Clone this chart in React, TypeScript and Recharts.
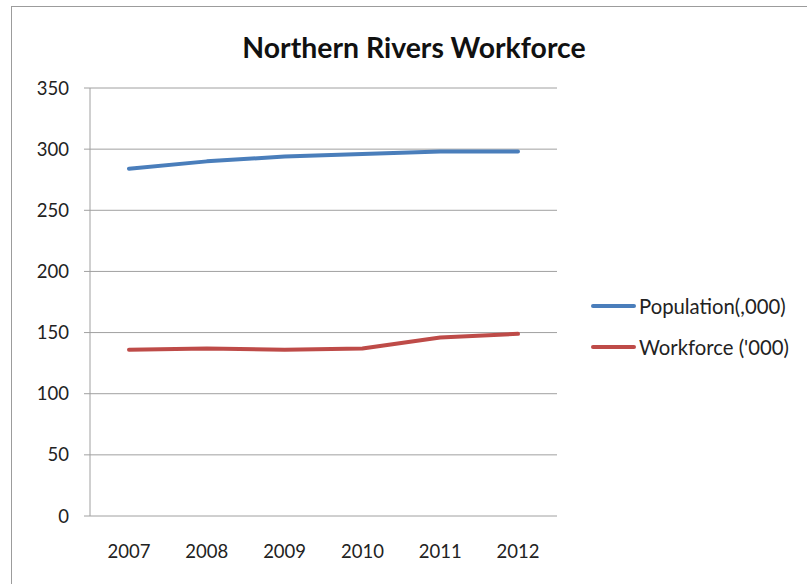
import React from "react";
import {
  LineChart,
  Line,
  XAxis,
  YAxis,
  CartesianGrid,
} from "recharts";

const years = ["2007", "2008", "2009", "2010", "2011", "2012"];
const population = [284, 290, 294, 296, 298, 298];
const workforce = [136, 137, 136, 137, 146, 149];
const yTicks = [0, 50, 100, 150, 200, 250, 300, 350];
const edgeTicks = [0, 1, 2, 3, 4, 5, 6];

const seriesInfo = [
  { key: "population", name: "Population(,000)", color: "#4a7ebb" },
  { key: "workforce", name: "Workforce ('000)", color: "#be4b48" },
];

const data = years.map((year, i) => ({
  year,
  population: population[i],
  workforce: workforce[i],
}));

const FONT = "Lato, 'Open Sans', sans-serif";
const GRID = "#a0a0a0";

export default function App() {
  return (
    <div
      style={{
        position: "absolute",
        left: 0,
        top: 0,
        width: 807,
        height: 584,
        overflow: "hidden",
        background: "#fff",
        fontFamily: FONT,
      }}
    >
      <div
        style={{
          position: "absolute",
          left: 11,
          top: 6,
          width: 900,
          height: 700,
          borderTop: "1px solid #9c9c9c",
          borderLeft: "1px solid #9c9c9c",
        }}
      />
      <div
        style={{
          position: "absolute",
          left: 0,
          width: 828,
          top: 30,
          textAlign: "center",
          fontWeight: 700,
          fontSize: 28.4,
          lineHeight: 1.2,
          color: "#111",
        }}
      >
        Northern Rivers Workforce
      </div>
      <div style={{ position: "absolute", left: 0, top: 0 }}>
        <LineChart
          width={807}
          height={584}
          data={data}
          margin={{ top: 88, right: 250, bottom: 18, left: 30 }}
        >
          <CartesianGrid horizontal vertical={false} stroke={GRID} strokeWidth={1} />
          <XAxis
            xAxisId="edges"
            type="number"
            domain={[0, 6]}
            ticks={edgeTicks}
            tick={false}
            tickSize={6}
            height={0}
            stroke={GRID}
            allowDataOverflow
          />
          <XAxis
            xAxisId="cat"
            dataKey="year"
            padding={{ left: 39, right: 39 }}
            tickLine={false}
            axisLine={false}
            height={50}
            tickMargin={23}
            tick={{ fill: "#222", fontSize: 18.5, fontFamily: FONT }}
          />
          <YAxis
            domain={[0, 350]}
            ticks={yTicks}
            width={60}
            tickSize={6}
            tickMargin={15}
            stroke={GRID}
            tick={{ fill: "#222", fontSize: 18.5, fontFamily: FONT }}
          />
          {seriesInfo.map((s) => (
            <Line
              key={s.key}
              xAxisId="cat"
              dataKey={s.key}
              name={s.name}
              type="linear"
              stroke={s.color}
              strokeWidth={4}
              strokeLinecap="round"
              strokeLinejoin="round"
              dot={false}
              activeDot={false}
              isAnimationActive={false}
            />
          ))}
        </LineChart>
      </div>
      {seriesInfo.map((s, i) => (
        <div
          key={s.key}
          style={{
            position: "absolute",
            left: 591,
            top: 294 + i * 41,
            height: 24,
            display: "flex",
            alignItems: "center",
            fontSize: 20.3,
            color: "#222",
            whiteSpace: "nowrap",
          }}
        >
          <span
            style={{
              display: "inline-block",
              width: 45,
              height: 4,
              borderRadius: 2,
              background: s.color,
              marginRight: 3,
            }}
          />
          {s.name}
        </div>
      ))}
    </div>
  );
}
